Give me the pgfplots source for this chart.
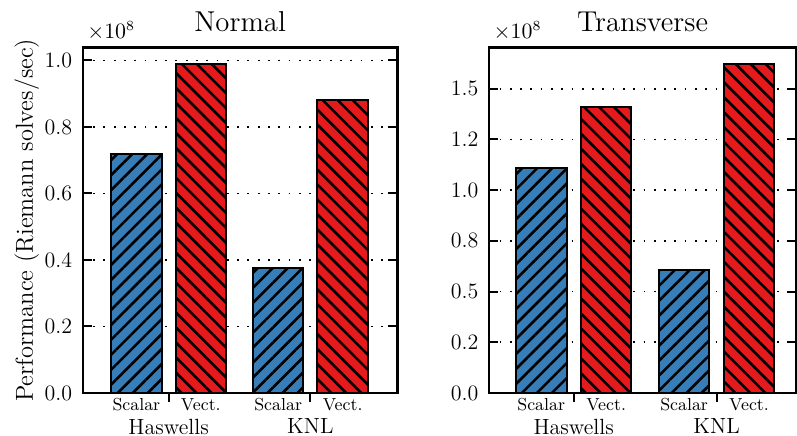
\documentclass[border=0pt]{standalone}
\usepackage{pgfplots}
\pgfplotsset{compat=1.18}
\usetikzlibrary{patterns.meta}
\definecolor{sblue}{RGB}{55,126,184}
\definecolor{sred}{RGB}{228,26,28}
\pgfplotsset{
  mybars/.style={
    scale only axis, height=173pt,
    ybar, bar shift=0pt, bar width=0.78,
    ymin=0, scaled y ticks=false,
    axis line style={line width=1.2pt},
    every tick/.style={black, line width=1pt},
    major tick length=4.5pt,
    ytick pos=both, tick align=inside,
    xtick pos=left,
    ymajorgrids, major grid style={black, line width=0.9pt, dash pattern=on 0.9pt off 4.25pt},
    xtick={0.5,2.7},
    xticklabels={Haswells,KNL},
    xtick style={yshift=-4.5pt},
    xticklabel style={font=\fontsize{11}{13}\selectfont, inner sep=0pt, anchor=north, yshift=-12.8pt},
    yticklabel style={font=\fontsize{11}{13}\selectfont, inner sep=0pt, anchor=east, xshift=-5.2pt},
    extra x ticks={0,1,2.2,3.2},
    extra x tick labels={Scalar,Vect.,Scalar,Vect.},
    extra x tick style={major tick length=0pt,
      xticklabel style={font=\fontsize{8.7}{10}\selectfont, yshift=10.3pt}},
    every axis title shift=0pt,
    title style={at={(rel axis cs:0.5,1)}, anchor=base, yshift=8pt, font=\fontsize{14.4}{17}\selectfont},
  },
  bluebar/.style={fill=sblue, draw=black, line width=1pt,
    postaction={pattern={Lines[angle=45,distance=5.3pt,line width=1.3pt]}, pattern color=black}},
  redbar/.style={fill=sred, draw=black, line width=1pt,
    postaction={pattern={Lines[angle=-45,distance=5.3pt,line width=1.3pt]}, pattern color=black}},
}
\begin{document}
\begin{tikzpicture}
\useasboundingbox (-41.5pt,-21.5pt) rectangle (357.6pt,196.8pt);
\begin{axis}[mybars, name=L, width=157.5pt,
  xmin=-0.83, xmax=4.05, ymax=1.039e8,
  ytick={0,2e7,4e7,6e7,8e7,1e8},
  yticklabels={0.0,0.2,0.4,0.6,0.8,1.0},
  title={Normal}]
\addplot[bluebar] coordinates {(0,7.20e7) (2.2,3.76e7)};
\addplot[redbar] coordinates {(1,9.90e7) (3.2,8.82e7)};
\end{axis}
\begin{axis}[mybars, name=R, at={(203.5pt,0)}, width=153.5pt,
  xmin=-0.8, xmax=3.92, ymax=1.7035e8,
  ytick={0,2.5e7,5e7,7.5e7,1e8,1.25e8,1.5e8},
  yticklabels={0.0,0.2,0.5,0.8,1.0,1.2,1.5},
  title={Transverse}]
\addplot[bluebar] coordinates {(0,1.111e8) (2.2,6.06e7)};
\addplot[redbar] coordinates {(1,1.410e8) (3.2,1.623e8)};
\end{axis}
\node[anchor=base west, inner sep=0pt, font=\fontsize{10.5}{12}\selectfont] at ([xshift=2pt,yshift=4.7pt]L.north west) {$\times10^{8}$};
\node[anchor=base west, inner sep=0pt, font=\fontsize{10.5}{12}\selectfont] at ([xshift=2pt,yshift=4.7pt]R.north west) {$\times10^{8}$};
\node[xshift=-25pt, rotate=90, anchor=base, inner sep=0pt, font=\fontsize{12.3}{15}\selectfont] at (L.west) {Performance (Riemann solves/sec)};
\end{tikzpicture}
\end{document}
